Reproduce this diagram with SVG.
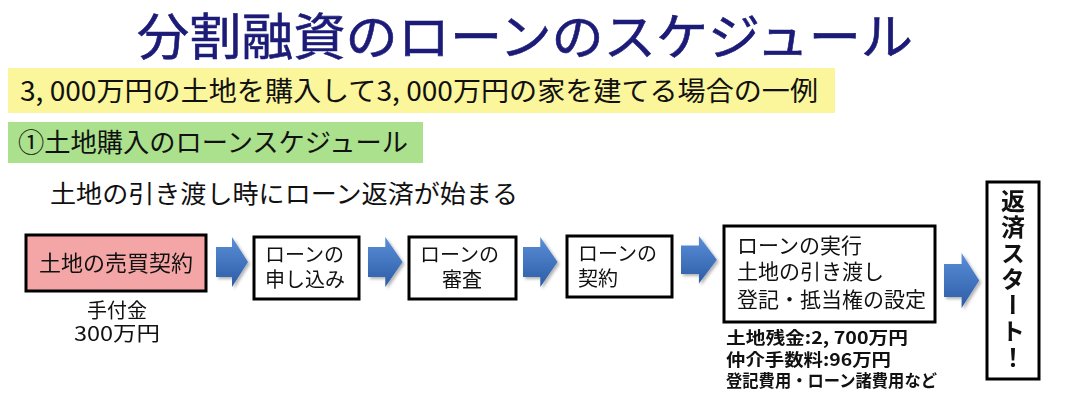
<svg xmlns="http://www.w3.org/2000/svg" width="1069" height="407" viewBox="0 0 1069 407">
<defs>
<style>
text{font-family:"Noto Sans CJK JP","Noto Sans",sans-serif;fill:#111}
.box{fill:#fff;stroke:#000;stroke-width:3}
.arr{fill:url(#ag)}
.lbl{font-size:20px}
.note{font-size:17px;font-weight:bold}
</style>
<linearGradient id="ag" x1="0" y1="0" x2="0" y2="1">
<stop offset="0" stop-color="#5b8fd8"/>
<stop offset="1" stop-color="#2c5ca6"/>
</linearGradient>
<filter id="sh" x="-20%" y="-20%" width="150%" height="150%">
<feDropShadow dx="2" dy="2" stdDeviation="1.5" flood-color="#000" flood-opacity="0.3"/>
</filter>
<path id="arrow" d="M0,10 H16 V0 L32,25 L16,50 V40 H0 Z"/>
</defs>
<rect width="1069" height="407" fill="#fff"/>
<text x="525" y="55" text-anchor="middle" font-size="50" style="fill:#1c1c78;stroke:#1c1c78;stroke-width:0.6" textLength="776" lengthAdjust="spacingAndGlyphs">分割融資のローンのスケジュール</text>
<rect x="8" y="68" width="827" height="45" fill="#fbf59b"/>
<text x="20" y="101" font-size="27" textLength="798" lengthAdjust="spacingAndGlyphs">3, 000万円の土地を購入して3, 000万円の家を建てる場合の一例</text>
<rect x="8" y="122" width="415" height="41" fill="#abe08c"/>
<text x="18" y="152" font-size="26" textLength="390" lengthAdjust="spacingAndGlyphs">①土地購入のローンスケジュール</text>
<text x="50" y="203" font-size="25" textLength="468" lengthAdjust="spacingAndGlyphs">土地の引き渡し時にローン返済が始まる</text>
<g id="connectors" filter="url(#sh)">
<use href="#arrow" class="arr" transform="translate(216,237)"/>
<use href="#arrow" class="arr" transform="translate(368,237) scale(1.08,1)"/>
<use href="#arrow" class="arr" transform="translate(523,237) scale(1.08,1)"/>
<use href="#arrow" class="arr" transform="translate(681,236) scale(1.12,0.95)"/>
<use href="#arrow" class="arr" transform="translate(944,253) scale(1.1,1.1)"/>
</g>
<g id="n1">
<rect x="26" y="235" width="180" height="56" fill="#f4a6a6" stroke="#000" stroke-width="3"/>
<text x="116" y="271" font-size="22" text-anchor="middle">土地の売買契約</text>
<text x="117" y="318" class="lbl" text-anchor="middle">手付金</text>
<text x="117" y="341" class="lbl" text-anchor="middle" textLength="86" lengthAdjust="spacingAndGlyphs">300万円</text>
</g>
<g id="n2">
<rect x="254" y="237" width="105" height="62" class="box"/>
<text x="265" y="262" class="lbl">ローンの</text>
<text x="265" y="287" class="lbl">申し込み</text>
</g>
<g id="n3">
<rect x="409" y="237" width="107" height="62" class="box"/>
<text x="420" y="262" class="lbl">ローンの</text>
<text x="462" y="287" class="lbl" text-anchor="middle">審査</text>
</g>
<g id="n4">
<rect x="567" y="236" width="105" height="61" class="box"/>
<text x="578" y="261" class="lbl">ローンの</text>
<text x="578" y="286" class="lbl">契約</text>
</g>
<g id="n5">
<rect x="724" y="226" width="211" height="96" class="box"/>
<text x="737" y="253" font-size="21">ローンの実行</text>
<text x="737" y="279" font-size="21">土地の引き渡し</text>
<text x="737" y="307" font-size="21">登記・抵当権の設定</text>
<text x="726" y="344" class="note" textLength="182" lengthAdjust="spacingAndGlyphs">土地残金:2, 700万円</text>
<text x="726" y="366" class="note" textLength="165" lengthAdjust="spacingAndGlyphs">仲介手数料:96万円</text>
<text x="726" y="387" class="note" textLength="211" lengthAdjust="spacingAndGlyphs">登記費用・ローン諸費用など</text>
</g>
<g id="n6">
<rect x="987" y="182" width="52" height="197" class="box"/>
<text x="1013" y="189" font-size="24" font-weight="bold" style="writing-mode:vertical-rl;letter-spacing:2px">返済スタート！</text>
</g>
</svg>
